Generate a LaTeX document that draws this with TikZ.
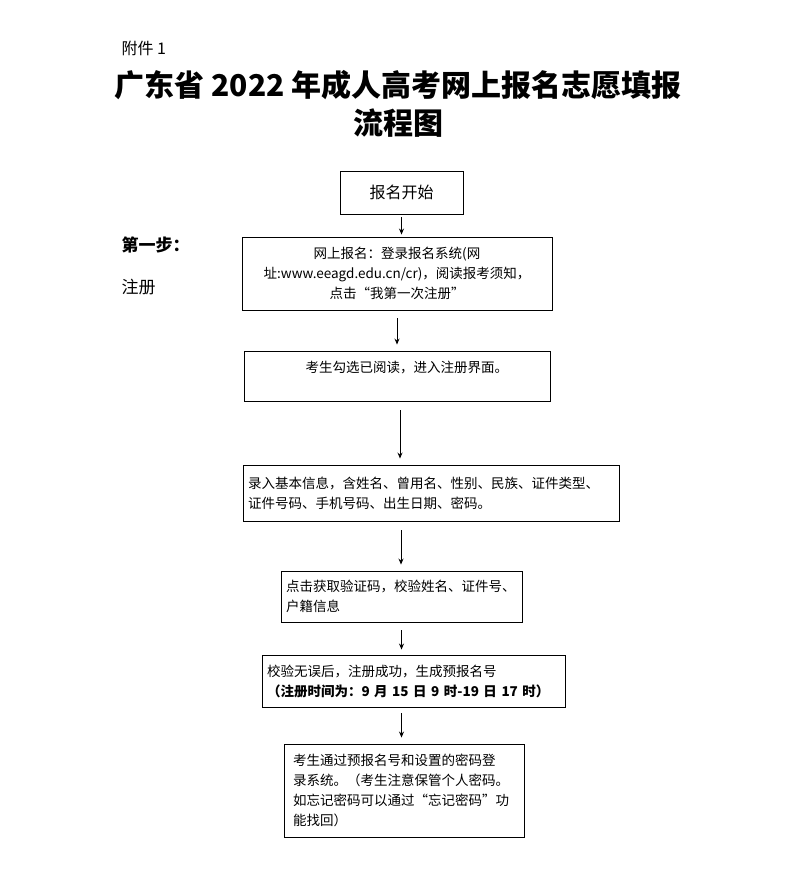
\documentclass[tikz,border=0pt]{standalone}
\usepackage{fontspec}
\setmainfont{Noto Sans CJK SC}
\usetikzlibrary{arrows.meta}
\tikzset{
 box/.style={draw,line width=0.9pt,inner sep=0pt,minimum height=#1},
 txt/.style={font=\fontsize{13.5}{20}\selectfont,align=left},
 arr/.style={-{Stealth[length=6pt,width=5pt]},line width=0.9pt},
}
\begin{document}
\begin{tikzpicture}[x=1pt,y=-1pt]
\useasboundingbox (0,0) rectangle (800,877);
\node[anchor=west,font=\fontsize{16}{16}\selectfont] (h0) at (118,48) {附件 1};
\node[font=\fontsize{30}{38}\selectfont\bfseries,align=center] (h1) at (398,104) {广东省 2022 年成人高考网上报名志愿填报\\流程图};
\node[anchor=west,font=\fontsize{17}{17}\selectfont\bfseries] (s1) at (118,245) {第一步：};
\node[anchor=west,font=\fontsize{17}{17}\selectfont] (s2) at (118,287) {注册};

\node[box=43pt,minimum width=123pt,font=\fontsize{16}{16}\selectfont] (b0) at (401.5,192.5) {报名开始};
\node[box=73pt,minimum width=310pt,txt,align=center] (b1) at (397,273.5) {网上报名：登录报名系统(网\\址:www.eeagd.edu.cn/cr)，阅读报考须知，\\点击“我第一次注册”};
\node[box=50pt,minimum width=306pt] (b2) at (397,376) {};
\node[txt,anchor=west] (t2) at (302,368) {考生勾选已阅读，进入注册界面。};
\node[box=56pt,minimum width=376pt,txt,text width=366pt] (b3) at (431,493) {录入基本信息，含姓名、曾用名、性别、民族、证件类型、\\证件号码、手机号码、出生日期、密码。};
\node[box=51pt,minimum width=241pt,txt,text width=231pt] (b4) at (401.5,596.5) {点击获取验证码，校验姓名、证件号、\\户籍信息};
\node[box=52pt,minimum width=303pt,txt,text width=293pt] (b5) at (413.5,681) {校验无误后，注册成功，生成预报名号\\{\bfseries（注册时间为：9 月 15 日 9 时-19 日 17 时）}};
\node[box=93pt,minimum width=240pt,txt,text width=222pt] (b6) at (404,790.5) {考生通过预报名号和设置的密码登\\录系统。（考生注意保管个人密码。\\如忘记密码可以通过“忘记密码”功\\能找回）};

\draw[arr,shorten <=3pt,shorten >=2pt] (b0.south) -- (b0.south |- b1.north);
\draw[arr,shorten <=8pt,shorten >=6pt] (b1.south) -- (b1.south |- b2.north);
\draw[arr,shorten <=9pt,shorten >=6pt] ([xshift=3]b2.south) -- ([xshift=3]b2.south |- b3.north);
\draw[arr,shorten <=9pt,shorten >=6pt] ([xshift=-30]b3.south) -- ([xshift=-30]b3.south |- b4.north);
\draw[arr,shorten <=8pt,shorten >=5pt] (b4.south) -- (b4.south |- b5.north);
\draw[arr,shorten <=6pt,shorten >=6pt] ([xshift=-12]b5.south) -- ([xshift=-12]b5.south |- b6.north);
\end{tikzpicture}
\end{document}
